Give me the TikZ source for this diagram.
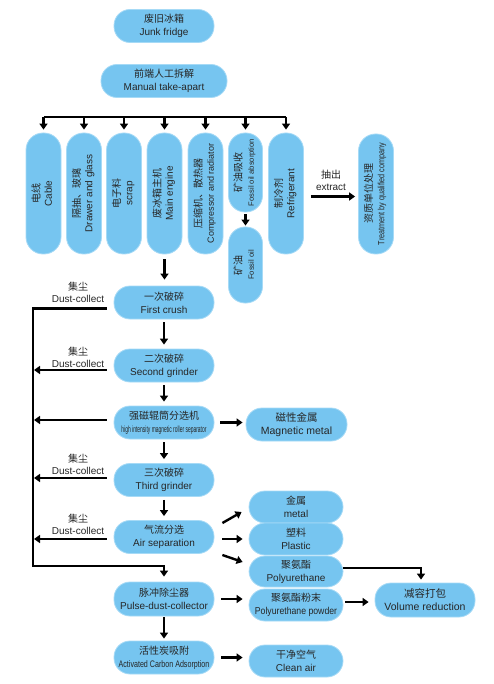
\documentclass[tikz,border=0pt]{standalone}
\usepackage{graphicx}
\usepackage{fontspec}
\setmainfont{Liberation Sans}
\newfontfamily\cjk{Noto Sans CJK SC}
\usetikzlibrary{arrows.meta}

\definecolor{pillblue}{HTML}{76C5F0}
\definecolor{pillrim}{HTML}{A6DAF6}
\newcommand{\twoline}[2]{{\cjk #1}\\#2}
\newcommand{\vlabel}[2]{\rotatebox{90}{\begin{tabular}{@{}c@{}}{\cjk #1}\\#2\end{tabular}}}

\tikzset{
  pill/.style={draw=pillrim, line width=0.8pt, fill=pillblue, rounded corners=16pt,
    inner sep=0pt, minimum width=100pt, minimum height=33pt, align=center,
    font=\fontsize{10}{13}\selectfont, text=black!85},
  vpill/.style={pill, rounded corners=17pt, minimum width=35pt, minimum height=121pt,
    font=\fontsize{10}{12}\selectfont},
  flow/.style={line width=2.4pt, -{Triangle[length=6pt,width=8pt]}},
  wire/.style={line width=2.4pt},
  dustnote/.style={align=center, inner sep=0pt, font=\fontsize{10}{12}\selectfont, text=black!85},
}

\begin{document}
\begin{tikzpicture}[x=1pt,y=-1pt,line join=miter]
  \useasboundingbox (0,0) rectangle (494,684);
  % top
  \node[pill] (fridge) at (164,26) {\twoline{废旧冰箱}{Junk fridge}};
  \node[pill,minimum width=126pt] (manual) at (164,81) {\twoline{前端人工拆解}{Manual take-apart}};

  % dismantled parts
  \node[vpill] (cable) at (43.5,193.5) {\vlabel{电线}{Cable}};
  \node[vpill] (drawer) at (84,193.5) {\vlabel{隔抽、玻璃}{Drawer and glass}};
  \node[vpill] (scrap) at (124,193.5) {\vlabel{电子料}{scrap}};
  \node[vpill] (engine) at (164.5,193.5) {\vlabel{废冰箱主机}{Main engine}};
  \node[vpill] (compr) at (205.5,193.5)
    {\vlabel{压缩机、散热器}{\fontsize{9}{12}\selectfont Compressor and radiator}};
  \node[vpill,minimum width=34pt,minimum height=79pt,rounded corners=16.5pt] (absorb) at (245.5,172.5)
    {\vlabel{矿油吸收}{\fontsize{7.6}{11}\selectfont Fossil oil absorption}};
  \node[vpill,minimum width=34pt,minimum height=76pt,rounded corners=16.5pt] (fossil) at (245.5,265)
    {\vlabel{矿油}{\fontsize{7.6}{11}\selectfont Fossil oil}};
  \node[vpill] (refrig) at (286,193.5) {\vlabel{制冷剂}{Refrigerant}};
  \node[vpill,minimum height=120pt] (treat) at (376,194)
    {\vlabel{资质单位处理}{\scalebox{0.8}[1]{\fontsize{9}{11}\selectfont Treatment by qualified company}}};

  \coordinate (bus) at (0,117);
  \draw[wire] (cable.north |- bus) -- (refrig.north |- bus);
  \foreach \n in {cable,drawer,scrap,engine,compr,absorb,refrig}
    \draw[flow,shorten >=3pt] (\n.north |- bus) -- (\n.north);
  \draw[flow,shorten <=2pt,shorten >=1pt] (absorb) -- (fossil);
  \draw[flow,shorten <=7pt,shorten >=3pt] ([yshift=-3pt]refrig.east) -- ([yshift=-3pt]refrig.east -| treat.west)
    node[midway,above=5pt,dustnote] {{\cjk 抽出}\\extract};

  % crushing line
  \node[pill] (crush1) at (164,302.5) {\twoline{一次破碎}{First crush}};
  \node[pill] (grind2) at (164,365.5) {\twoline{二次破碎}{Second grinder}};
  \node[pill] (magsep) at (164,422.5)
    {{\cjk 强磁辊筒分选机}\\\scalebox{0.55}[1]{\fontsize{9}{11}\selectfont high intensity magnetic roller separator}};
  \node[pill] (grind3) at (164,480) {\twoline{三次破碎}{Third grinder}};
  \node[pill] (airsep) at (164,537) {\twoline{气流分选}{Air separation}};
  \node[pill,minimum height=34pt] (pulse) at (164,599) {\twoline{脉冲除尘器}{Pulse-dust-collector}};
  \node[pill] (carbon) at (164,657.5)
    {{\cjk 活性炭吸附}\\\scalebox{0.75}[1]{\fontsize{9.5}{11}\selectfont Activated Carbon Adsorption}};

  \draw[flow,shorten <=5pt,shorten >=6pt] (engine.south) -- (engine.south |- crush1.north);
  \foreach \a/\b in {crush1/grind2,grind2/magsep,magsep/grind3,grind3/airsep}
    \draw[flow,shorten <=3pt,shorten >=4pt] (\a) -- (\b);
  \draw[flow,shorten <=1pt,shorten >=2pt] (pulse) -- (carbon);

  % dust collection
  \coordinate (dustx) at (33,0);
  \coordinate (loop) at (33,566);
  \draw[flow,shorten >=5pt] ([shift={(-7,6)}]crush1.west) -| (loop) -| (pulse.north);
  \foreach \n/\dy in {grind2/4.5,magsep/-2.5,grind3/-2,airsep/2}
    \draw[flow,shorten >=1pt] ([shift={(-7,\dy)}]\n.west) -- ([shift={(0,\dy)}]\n.west -| dustx);
  \node[dustnote] (dust1) at (78,292) {{\cjk 集尘}\\Dust-collect};
  \node[dustnote] (dust2) at (78,357) {{\cjk 集尘}\\Dust-collect};
  \node[dustnote] (dust3) at (78,464) {{\cjk 集尘}\\Dust-collect};
  \node[dustnote] (dust4) at (78,524) {{\cjk 集尘}\\Dust-collect};

  % products
  \node[pill,minimum width=101pt,font=\fontsize{10.5}{13}\selectfont] (magmetal) at (296.5,424.5)
    {\twoline{磁性金属}{Magnetic metal}};
  \node[pill,minimum width=94pt,minimum height=32pt] (metal) at (296,507) {\twoline{金属}{metal}};
  \node[pill,minimum width=94pt,minimum height=32pt] (plastic) at (296,539) {\twoline{塑料}{Plastic}};
  \node[pill,minimum width=94pt,minimum height=31pt] (polyu) at (296,571.5) {\twoline{聚氨酯}{Polyurethane}};
  \node[pill,minimum width=94pt,minimum height=32pt] (powder) at (296,605)
    {{\cjk 聚氨酯粉末}\\\scalebox{0.87}[1]{Polyurethane powder}};
  \node[pill,minimum width=94pt,minimum height=32pt] (clean) at (296,661) {\twoline{干净空气}{Clean air}};
  \node[pill,minimum height=34pt,font=\fontsize{10.5}{13}\selectfont] (volume) at (425,600)
    {\twoline{减容打包}{Volume reduction}};

  \draw[flow,shorten <=6pt,shorten >=3pt] (magsep.east) -- (magsep.east -| magmetal.west);
  \draw[flow] ([shift={(8,-14)}]airsep.east) -- ([shift={(-7,5)}]metal.west);
  \draw[flow,shorten <=8pt,shorten >=6pt] ([yshift=-2pt]airsep.east) -- ([yshift=-2pt]airsep.east -| plastic.west);
  \draw[flow] ([shift={(8,18)}]airsep.east) -- ([shift={(-6,-9.5)}]polyu.west);
  \draw[flow,shorten >=3pt] ([yshift=3.5pt]polyu.east) -| ([xshift=-4pt]volume.north);
  \draw[flow,shorten <=2pt,shorten >=6pt] ([yshift=3pt]powder.east) -- ([yshift=3pt]powder.east -| volume.west);
  \draw[flow,shorten <=7pt,shorten >=6pt] (pulse.east) -- (pulse.east -| powder.west);
  \draw[flow,shorten <=7pt,shorten >=6pt] (carbon.east) -- (carbon.east -| clean.west);
\end{tikzpicture}
\end{document}
